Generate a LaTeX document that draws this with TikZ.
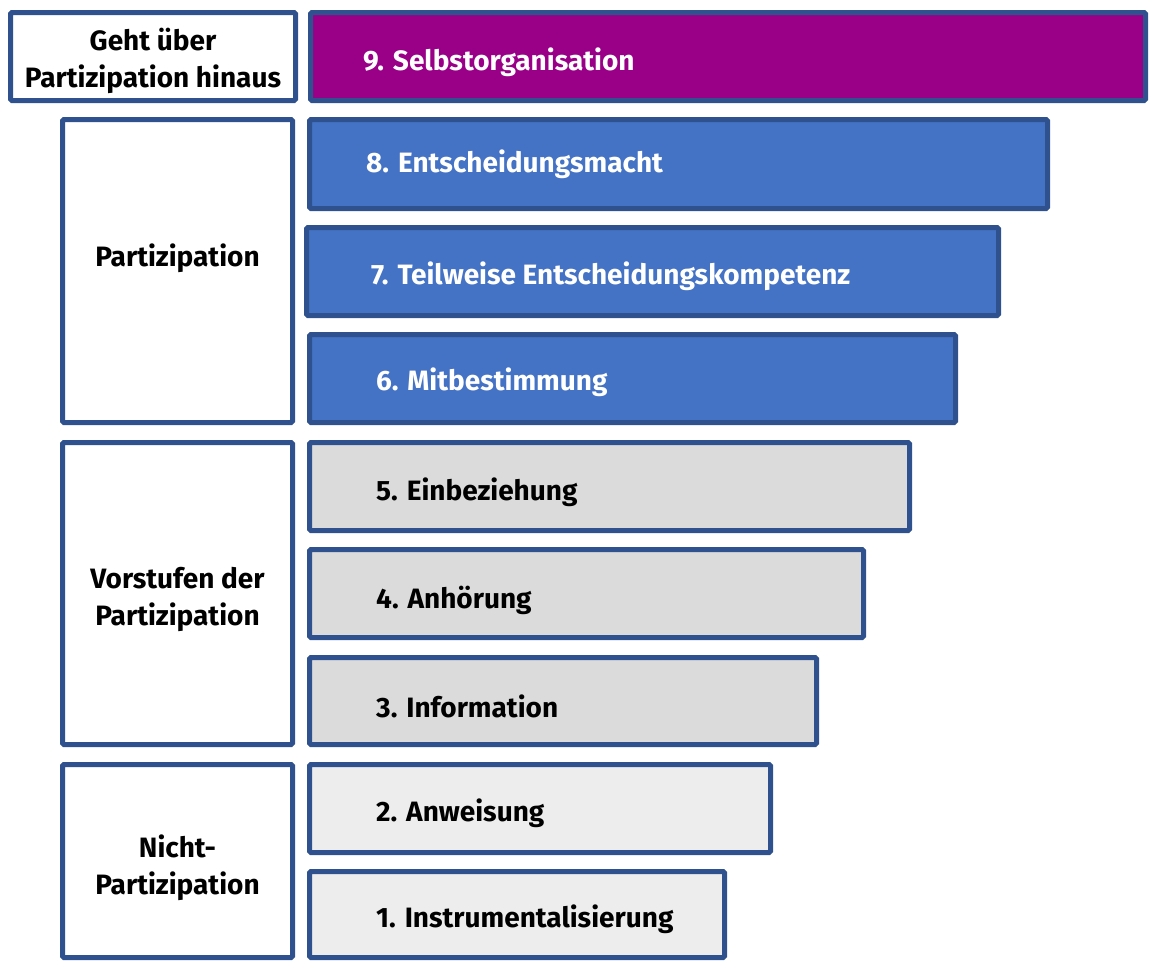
\documentclass[tikz,border=0pt]{standalone}
\usepackage{fontspec}
\setmainfont{Fira Sans}
\definecolor{bordc}{HTML}{2F528F}
\definecolor{purp}{HTML}{990087}
\definecolor{blu}{HTML}{4472C4}
\definecolor{gryA}{HTML}{DBDBDB}
\definecolor{gryB}{HTML}{EDEDED}
\tikzset{
  box/.style={draw=bordc, line width=5pt, rounded corners=1.5pt, inner sep=0pt},
  catbox/.style={box, fill=white},
  lvlP/.style={box, fill=purp},
  lvlB/.style={box, fill=blu},
  lvlG/.style={box, fill=gryA},
  lvlL/.style={box, fill=gryB},
  lbl/.style={inner sep=0pt, anchor=west, font=\fontsize{28}{37}\selectfont\bfseries},
  lblw/.style={lbl, text=white},
  cat/.style={inner sep=0pt, align=center, font=\fontsize{28}{37}\selectfont\bfseries},
}
\begin{document}
\begin{tikzpicture}[x=1pt,y=-1pt]
\useasboundingbox (0,0) rectangle (1149,962);
% category boxes
\node[catbox, minimum width=285pt, minimum height=88pt] (cG) at (153,56.5) {};
\node[catbox, minimum width=230pt, minimum height=303pt] (cP) at (177.5,271) {};
\node[catbox, minimum width=230pt, minimum height=302pt] (cV) at (177.5,593.5) {};
\node[catbox, minimum width=230pt, minimum height=193pt] (cN) at (177.5,861) {};
\node[cat] (tG) at (153,61) {Geht über\\Partizipation hinaus};
\node[cat] (tP) at (177.5,258) {Partizipation};
\node[cat] (tV) at (177.5,599) {Vorstufen der\\Partizipation};
\node[cat] (tN) at (177.5,868) {Nicht-\\Partizipation};
% level boxes
\node[lvlP, minimum width=835pt, minimum height=88pt] (b9) at (728,56.5) {};
\node[lvlB, minimum width=738pt, minimum height=89pt] (b8) at (678.5,164) {};
\node[lvlB, minimum width=692pt, minimum height=88pt] (b7) at (652.5,271.5) {};
\node[lvlB, minimum width=646pt, minimum height=88pt] (b6) at (632.5,378.5) {};
\node[lvlG, minimum width=600pt, minimum height=88pt] (b5) at (609.5,486.5) {};
\node[lvlG, minimum width=554pt, minimum height=88pt] (b4) at (586.5,593.5) {};
\node[lvlG, minimum width=507pt, minimum height=87pt] (b3) at (563,701) {};
\node[lvlL, minimum width=461pt, minimum height=88pt] (b2) at (540,808.5) {};
\node[lvlL, minimum width=415pt, minimum height=86pt] (b1) at (517,914.5) {};
% level labels
\node[lblw] (l9) at (363,62) {9. Selbstorganisation};
\node[lblw] (l8) at (366,164) {8. Entscheidungsmacht};
\node[lblw] (l7) at (371,276) {7. Teilweise Entscheidungskompetenz};
\node[lblw] (l6) at (376,382) {6. Mitbestimmung};
\node[lbl] (l5) at (376,492) {5. Einbeziehung};
\node[lbl] (l4) at (376,600) {4. Anhörung};
\node[lbl] (l3) at (376,706) {3. Information};
\node[lbl] (l2) at (376,813) {2. Anweisung};
\node[lbl] (l1) at (376,919) {1. Instrumentalisierung};
\end{tikzpicture}
\end{document}
